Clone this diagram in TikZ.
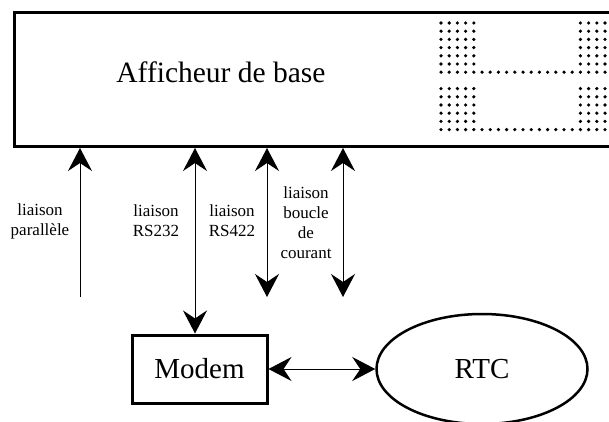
\documentclass[tikz,border=0pt]{standalone}
\usepackage{fontspec}
\setmainfont{Liberation Serif}
\usetikzlibrary{arrows.meta, shapes.geometric}

\begin{document}
\begin{tikzpicture}[x=1pt, y=-1pt,
    % Define the big barbed tip and the link styles
    bigtip/.tip={Stealth[length=23pt, width=24pt, inset=8pt]},
    link/.style={line width=1pt, {bigtip}-{bigtip}},
    uplink/.style={line width=1pt, -{bigtip}},
    linklabel/.style={align=center, font=\fontsize{17}{20}\selectfont},
    box/.style={draw, line width=3pt, inner sep=0pt},
    dot/.style={fill=black}
]

% Fix the page and cut off the display's right side
\useasboundingbox (0,0) rectangle (609,422);
\clip (0,0) rectangle (609,422);

% Define the display, the modem and the network
\node[box, anchor=north west, minimum width=607, minimum height=134] (afficheur) at (13,11) {};
\node[anchor=base, font=\fontsize{29.5}{32}\selectfont] (titre) at (221,83) {Afficheur de base};
\node[box, minimum width=135, minimum height=68, font=\fontsize{29}{32}\selectfont] (modem) at (199.5,369) {Modem};
\node[box, ellipse, line width=2.5pt, minimum width=211, minimum height=110, font=\fontsize{29}{32}\selectfont] (rtc) at (482,369) {RTC};

% Dot matrix digit on the display
\foreach \r in {0,1,2,3,4,5,6,8,9,10,11,12,13}
  \foreach \c in {0,1,2,3,4,17,18,19,20}
    \fill[dot] (441+8.2*\c, 23+8.2*\r) circle[radius=1.8pt];
\foreach \r in {6,13}
  \foreach \c in {5,...,16}
    \fill[dot] (441+8.2*\c, 23+8.2*\r) circle[radius=1.8pt];

% Define the ends of the links
\coordinate (par) at (80,297);
\coordinate (rs232) at (195,0);
\coordinate (rs422) at (267,297);
\coordinate (bdc) at (343,297);

% Draw the links
\draw[uplink] (par) -- (afficheur.south -| par);
\draw[link] (afficheur.south -| rs232) -- (modem.north -| rs232);
\draw[link] (afficheur.south -| rs422) -- (rs422);
\draw[link] (afficheur.south -| bdc) -- (bdc);
\draw[link] (modem.east) -- (rtc.west);

% Add the link labels
\node[linklabel] (lpar) at (40,221) {liaison\\parallèle};
\node[linklabel] (l232) at (156,221) {liaison\\RS232};
\node[linklabel] (l422) at (232,221) {liaison\\RS422};
\node[linklabel] (lbdc) at (306,223) {liaison\\boucle\\de\\courant};

\end{tikzpicture}
\end{document}
